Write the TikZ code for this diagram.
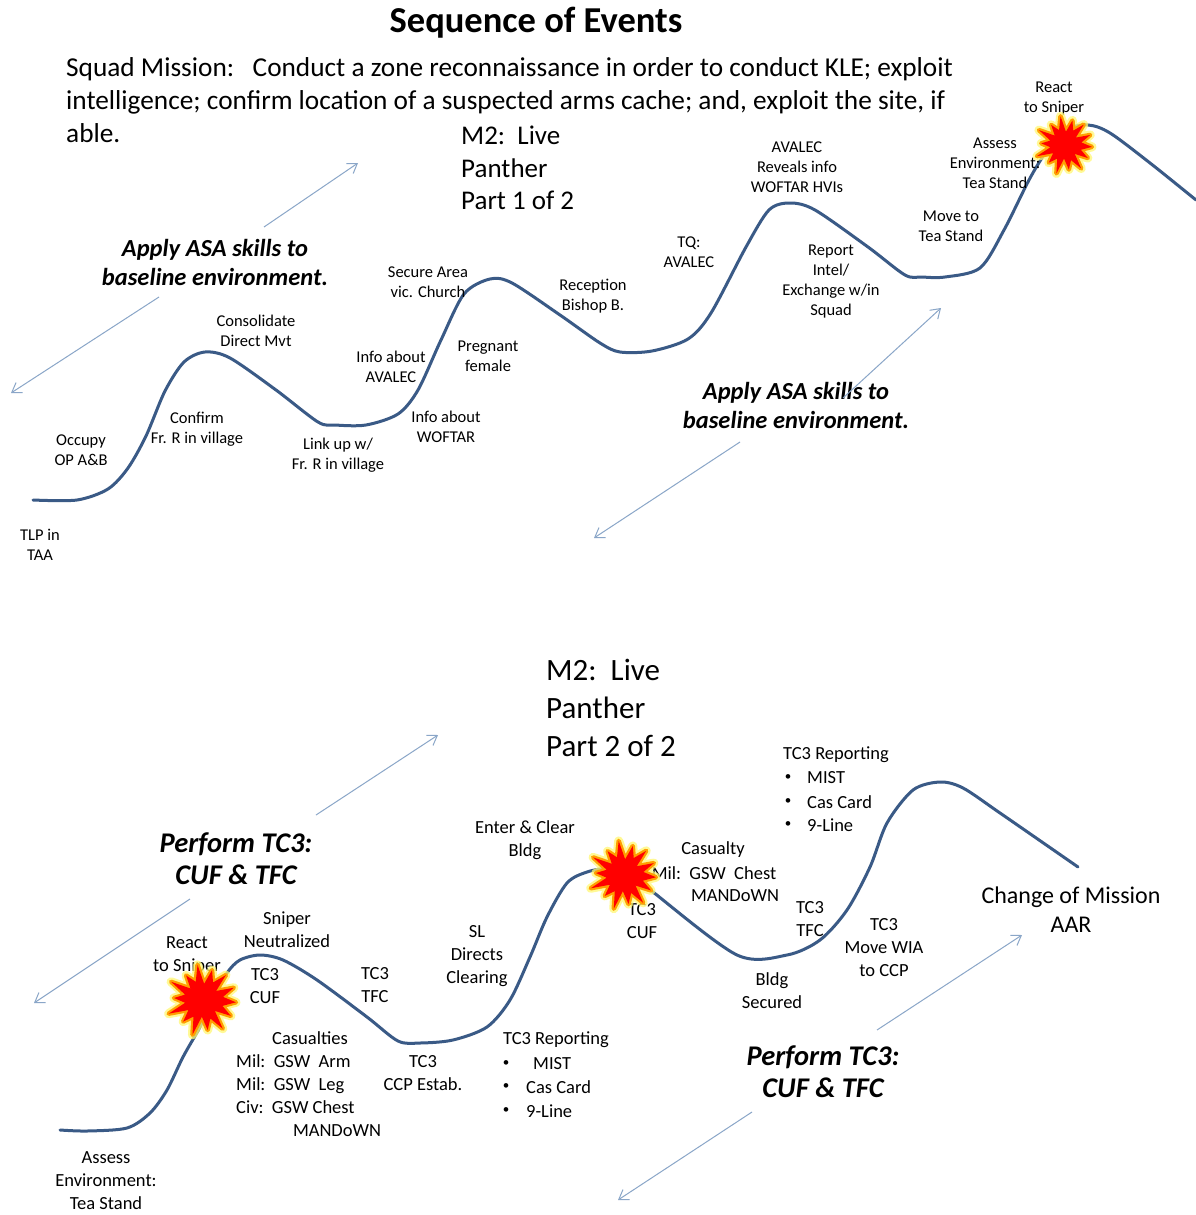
\documentclass[tikz,border=0pt]{standalone}
\usepackage{fontspec}
\setmainfont{Carlito}
\usetikzlibrary{arrows.meta}
\definecolor{curveblue}{HTML}{3A5A86}
\definecolor{arrowblue}{HTML}{8AA6C8}

% explosion marker: glow, rim and red core of an irregular 14-spike star
\newcommand\boomshape{plot[samples at={0,...,27}, variable=\k]
  ({\k*360/28+4}:{\boomr*(1-0.45*mod(\k,2))*(1+0.12*sin(\k*97))}) -- cycle}
\newcommand\boomstar[2]{%
  \def\boomr{#2}%
  \draw[shift={(#1)}, line width=9pt, line join=round, draw=yellow!55!white, opacity=.75] \boomshape;
  \draw[shift={(#1)}, line width=4.5pt, line join=round, draw=orange!75!yellow] \boomshape;
  \fill[shift={(#1)}, red] \boomshape;
}

\begin{document}
\begin{tikzpicture}[x=1pt, y=-1pt,
  lbl/.style={font=\fontsize{16.5}{20}\selectfont, align=center, inner sep=0pt},
  lblb/.style={font=\fontsize{18.5}{23}\selectfont, align=center, inner sep=0pt},
  lblbl/.style={font=\fontsize{18.5}{23}\selectfont, align=left, inner sep=0pt, anchor=west},
  bul/.style={font=\fontsize{13}{15}\selectfont, inner sep=0pt},
  skill/.style={font=\fontsize{24.5}{29}\selectfont\bfseries\itshape, align=center, inner sep=0pt},
  perf/.style={font=\fontsize{28.5}{32}\selectfont\bfseries\itshape, align=center, inner sep=0pt},
  flow/.style={draw=curveblue, line width=3pt, line cap=round, line join=round},
  hint/.style={draw=arrowblue, line width=1pt, -{Straight Barb[length=9pt,width=12pt]}},
]
\fill[white] (0,0) rectangle (1196,1215);
\useasboundingbox (0,0) rectangle (1196,1215);

% ---------- headings ----------
\node[font=\fontsize{36.5}{40}\selectfont\bfseries, inner sep=0pt] (title) at (536,23) {Sequence of Events};
\node[font=\fontsize{27.3}{33}\selectfont, align=left, anchor=west, inner sep=0pt] (mission) at (66,100)
  {Squad Mission:\ \ \ Conduct a zone reconnaissance in order to conduct KLE; exploit\\
   intelligence; confirm location of a suspected arms cache; and, exploit the site, if\\
   able.};
\node[font=\fontsize{27}{32.5}\selectfont, align=left, anchor=west, inner sep=0pt] (parta) at (461,168)
  {M2:\ \ Live\\Panther\\Part 1 of 2};
\node[font=\fontsize{31}{38}\selectfont, align=left, anchor=west, inner sep=0pt] (partb) at (546,708)
  {M2:\ \ Live\\Panther\\Part 2 of 2};

% ---------- part 1 ----------
\draw[flow] plot[smooth, tension=0.5] coordinates {
  (33,500) (77,500) (108,489) (128,468) (146,436) (165,391) (184,362) (205,352)
  (230,358) (276,390) (318,422) (335,425) (366,425) (398,414) (418,390) (441,340)
  (464,294) (490,279) (512,283) (560,315) (600,343) (620,352) (652,351) (688,339)
  (711,313) (746,247) (769,210) (790,203) (815,210) (868,247) (905,275) (922,277)
  (945,277) (980,268) (1004,230) (1029,180) (1046,152) (1065,130) (1088,125)
  (1110,133) (1150,163) (1196,200)};

\node[skill] (skillA) at (215,262) {Apply ASA skills to\\baseline environment.};
\node[skill] (skillB) at (796,405) {Apply ASA skills to\\baseline environment.};

\coordinate (a1s) at (264,227); \coordinate (a1e) at (358,163);
\coordinate (a2s) at (159,297); \coordinate (a2e) at (11,393);
\coordinate (a3s) at (843,398); \coordinate (a3e) at (941,308);
\coordinate (a4s) at (740,442); \coordinate (a4e) at (594,538);
\draw[hint] (a1s) -- (a1e);
\draw[hint] (a2s) -- (a2e);
\draw[hint] (a3s) -- (a3e);
\draw[hint] (a4s) -- (a4e);

\node[lbl] (tlp) at (40,545) {TLP in\\TAA};
\node[lbl] (occupy) at (81,450) {Occupy\\OP A\&B};
\node[lbl] (confirm) at (197,429) {Confirm\\Fr. R in village};
\node[lbl] (consol) at (256,331) {Consolidate\\Direct Mvt};
\node[lbl] (linkup) at (338,455) {Link up w/\\Fr. R in village};
\node[lbl] (infoav) at (391,367) {Info about\\AVALEC};
\node[lbl] (infowo) at (446,427) {Info about\\WOFTAR};
\node[lbl] (secure) at (428,282) {Secure Area\\vic. Church};
\node[lbl] (pregnant) at (488,356) {Pregnant\\female};
\node[lbl] (reception) at (593,296) {Reception\\Bishop B.};
\node[lbl] (tq) at (689,252) {TQ:\\AVALEC};
\node[lbl] (reveals) at (797,167) {AVALEC\\Reveals info\\WOFTAR HVIs};
\node[lbl] (report) at (831,282) {Report\\Intel/\\Exchange w/in\\Squad};
\node[lbl] (moveto) at (951,226) {Move to\\Tea Stand};
\node[lbl] (assessA) at (995,163) {Assess\\Environment:\\Tea Stand};
\node[lbl] (reactA) at (1054,99) {React\\to Sniper};

% ---------- part 2 ----------
\draw[flow] plot[smooth, tension=0.5] coordinates {
  (60,1130) (87,1131) (127,1128) (150,1113) (167,1090) (183,1057) (200,1027)
  (213,1000) (227,973) (240,960) (260,955) (283,960) (317,980) (367,1017)
  (398,1041) (420,1043) (453,1040) (487,1027) (510,1000) (530,957) (547,917)
  (567,883) (587,872) (610,868) (630,872) (653,892) (737,955) (787,955)
  (820,940) (847,910) (870,867) (887,823) (913,790) (940,782) (963,788)
  (1000,813) (1078,867)};

\node[perf] (perfA) at (236,859) {Perform TC3:\\CUF \& TFC};
\node[perf] (perfB) at (823,1072) {Perform TC3:\\CUF \& TFC};

\coordinate (a5s) at (316,815); \coordinate (a5e) at (438,735);
\coordinate (a6s) at (190,899); \coordinate (a6e) at (34,1003);
\coordinate (a7s) at (877,1030); \coordinate (a7e) at (1022,935);
\coordinate (a8s) at (752,1112); \coordinate (a8e) at (618,1200);
\draw[hint] (a5s) -- (a5e);
\draw[hint] (a6s) -- (a6e);
\draw[hint] (a7s) -- (a7e);
\draw[hint] (a8s) -- (a8e);

\node[lblb] (reactB) at (187,956) {React\\to Sniper};
\node[lblb] (neutral) at (287,930) {Sniper\\Neutralized};
\node[lblb] (cufA) at (265,986) {TC3\\CUF};
\node[lblb] (tfcA) at (375,985) {TC3\\TFC};
\node[lblb] (casT) at (310,1038) {Casualties};
\node[lblbl] (casL) at (236,1084) {Mil:\ \ GSW\ \ Arm\\Mil:\ \ GSW\ \ Leg\\Civ:\ \ GSW Chest};
\node[lblb] (mandA) at (337,1131) {MANDoWN};
\node[lblb] (ccp) at (423,1073) {TC3\\CCP Estab.};
\node[lblb] (sl) at (477,956) {SL\\Directs\\Clearing};
\node[lblb] (enter) at (525,840) {Enter \& Clear\\Bldg};

\node[lblbl] (rptA) at (503,1040) {TC3 Reporting};
\node[bul] (bA1) at (506,1064) {\textbullet};
\node[bul] (bA2) at (506,1087) {\textbullet};
\node[bul] (bA3) at (506,1111) {\textbullet};
\node[lblbl] (iA1) at (533,1064) {MIST};
\node[lblbl] (iA2) at (526,1087) {Cas Card};
\node[lblbl] (iA3) at (526,1111) {9-Line};

\node[lblb] (casualty) at (713,850) {Casualty};
\node[lblb] (casmil) at (714,873) {Mil:\ \ GSW\ \ Chest};
\node[lblb] (mandB) at (735,896) {MANDoWN};
\node[lblb] (cufB) at (642,921) {TC3\\CUF};
\node[lblb] (tfcB) at (810,919) {TC3\\TFC};
\node[lblb] (bldg) at (772,991) {Bldg\\Secured};

\node[lblbl] (rptB) at (783,755) {TC3 Reporting};
\node[bul] (bB1) at (788,778) {\textbullet};
\node[bul] (bB2) at (788,802) {\textbullet};
\node[bul] (bB3) at (788,825) {\textbullet};
\node[lblbl] (iB1) at (807,778) {MIST};
\node[lblbl] (iB2) at (807,802) {Cas Card};
\node[lblbl] (iB3) at (807,825) {9-Line};

\node[lblb] (wia) at (884,948) {TC3\\Move WIA\\to CCP};
\node[lblb] (assessB) at (106,1181) {Assess\\Environment:\\Tea Stand};
\node[font=\fontsize{24}{29}\selectfont, align=center, inner sep=0pt] (change) at (1071,910)
  {Change of Mission\\AAR};

% ---------- sniper contacts ----------
\coordinate (boomA) at (1065,145);
\coordinate (boomB) at (203,1000);
\coordinate (boomC) at (624,875);
\boomstar{boomA}{27}
\boomstar{boomB}{33}
\boomstar{boomC}{32}
\end{tikzpicture}
\end{document}
